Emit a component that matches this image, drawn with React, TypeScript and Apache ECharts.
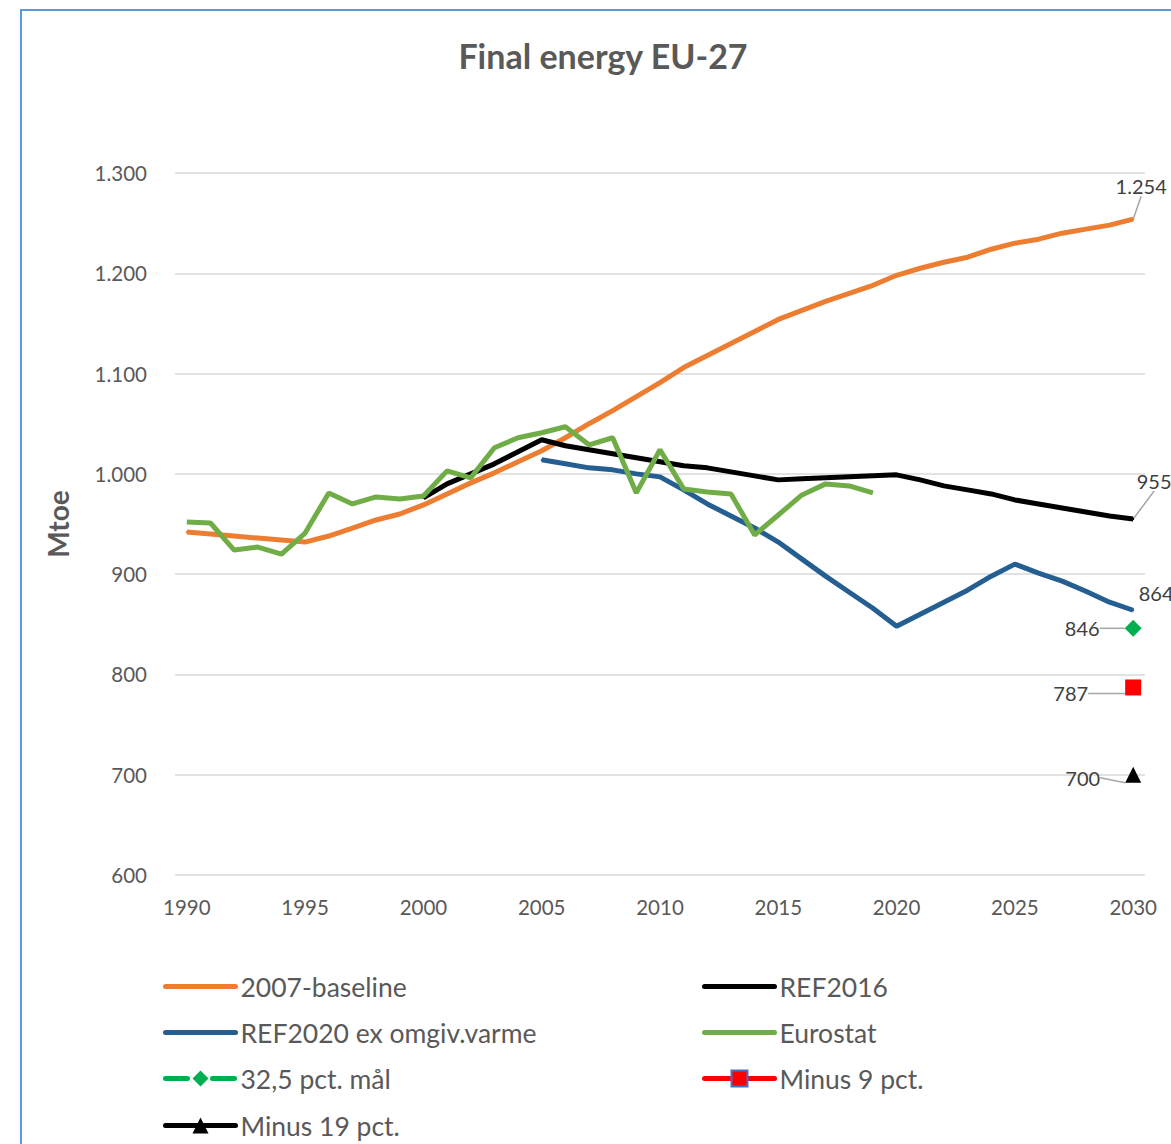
import React, { useEffect, useRef } from "react";
import * as echarts from "echarts";

const years = [
  "1990", "1991", "1992", "1993", "1994", "1995", "1996", "1997", "1998", "1999",
  "2000", "2001", "2002", "2003", "2004", "2005", "2006", "2007", "2008", "2009",
  "2010", "2011", "2012", "2013", "2014", "2015", "2016", "2017", "2018", "2019",
  "2020", "2021", "2022", "2023", "2024", "2025", "2026", "2027", "2028", "2029", "2030",
];

// 2007-baseline, 1990-2030
const baseline2007 = [
  942, 940, 938, 936, 934, 932, 938, 946, 954, 960,
  969, 980, 991, 1001, 1012, 1023, 1036, 1050, 1063, 1077,
  1091, 1106, 1118, 1130, 1142, 1154, 1163, 1172, 1180, 1188,
  1198, 1205, 1211, 1216, 1224, 1230, 1234, 1240, 1244, 1248, 1254,
];
// REF2016, 2000-2030
const ref2016Start = "2000";
const ref2016 = [
  976, 990, 1000, 1010, 1022, 1034, 1028, 1024, 1020, 1016,
  1012, 1008, 1006, 1002, 998, 994, 995, 996, 997, 998,
  999, 994, 988, 984, 980, 974, 970, 966, 962, 958, 955,
];
// REF2020 ex omgiv.varme, 2005-2030
const ref2020Start = "2005";
const ref2020 = [
  1014, 1010, 1006, 1004, 1000,
  997, 984, 970, 958, 946, 932, 915, 898, 882, 866,
  848, 860, 872, 884, 898, 910, 901, 893, 883, 872, 864,
];
// Eurostat, 1990-2019
const eurostat = [
  952, 951, 924, 927, 920, 941, 981, 970, 977, 975,
  978, 1003, 996, 1026, 1036, 1041, 1047, 1029, 1036, 981,
  1024, 985, 982, 980, 939, 959, 979, 990, 988, 981,
];
// 2030 targets
const targetYear = "2030";
const target325 = 846;
const minus9 = 787;
const minus19 = 700;

const yTicks = { min: 600, max: 1300, interval: 100 };

function pad(start: string, values: number[]): (number | null)[] {
  const out: (number | null)[] = years.map(() => null);
  const s = years.indexOf(start);
  values.forEach((v, i) => {
    out[s + i] = v;
  });
  return out;
}

function fmt(v: number): string {
  if (v >= 1000) {
    const t = Math.floor(v / 1000);
    const r = String(Math.round(v - t * 1000)).padStart(3, "0");
    return t + "." + r;
  }
  return String(Math.round(v));
}

function lastLabel(values: (number | null)[], label: any) {
  return values.map((v, i) =>
    i === values.length - 1 && v != null ? { value: v, label } : v
  );
}

const FONT = "Lato, 'Open Sans', sans-serif";
const labelText = { fontSize: 20, color: "#404040", fontFamily: FONT };
const legendText = { fontSize: 26.5, color: "#595959", fontFamily: FONT };
const LW = 5;

export default function App() {
  const ref = useRef<HTMLDivElement>(null);
  useEffect(() => {
    if (!ref.current) return;
    const chart = echarts.init(ref.current, undefined, { renderer: "svg" });

    const dBase = pad("1990", baseline2007);
    const d16 = pad(ref2016Start, ref2016);
    const d20 = pad(ref2020Start, ref2020);
    const dEuro = pad("1990", eurostat);
    const dT = pad(targetYear, [target325]);
    const dM9 = pad(targetYear, [minus9]);
    const dM19 = pad(targetYear, [minus19]);

    const guide = { show: true, lineStyle: { color: "#A6A6A6", width: 1.5 }, length2: 0 };
    const lbl = (position: string) => ({
      show: true,
      position,
      formatter: (p: any) => fmt(p.value),
      ...labelText,
    });
    const plainItem = (name: string) => ({ name, itemStyle: { opacity: 0 } });

    const legendBase = {
      orient: "vertical",
      itemWidth: 70,
      itemHeight: 20,
      itemGap: 19,
      textStyle: legendText,
      lineStyle: { width: 5, cap: "round" },
    };

    const option: any = {
      animation: false,
      backgroundColor: "#ffffff",
      textStyle: { fontFamily: FONT },
      title: {
        text: "Final energy EU-27",
        left: 598,
        top: 33,
        textAlign: "center",
        textStyle: { fontSize: 34, fontWeight: "bold", color: "#595959", fontFamily: FONT },
      },
      graphic: [
        {
          type: "rect",
          z: -10,
          shape: { x: 21, y: 10, width: 1300, height: 1300 },
          style: { fill: "none", stroke: "#5B9BD5", lineWidth: 2 },
        },
      ],
      grid: { left: 175, right: 26, top: 173, bottom: 269 },
      xAxis: {
        type: "category",
        data: years,
        boundaryGap: true,
        axisLine: { show: false },
        axisTick: { show: false },
        axisLabel: { interval: 4, fontSize: 20.5, color: "#595959", margin: 21, fontFamily: FONT },
        splitLine: { show: false },
      },
      yAxis: {
        type: "value",
        min: yTicks.min,
        max: yTicks.max,
        interval: yTicks.interval,
        name: "Mtoe",
        nameLocation: "middle",
        nameRotate: 90,
        nameGap: 103,
        nameTextStyle: { fontSize: 28, fontWeight: "bold", color: "#595959", fontFamily: FONT },
        axisLabel: { fontSize: 20.5, color: "#595959", margin: 28, formatter: (v: number) => fmt(v), fontFamily: FONT },
        axisLine: { show: false },
        axisTick: { show: false },
        splitLine: { lineStyle: { color: "#D9D9D9", width: 1.5 } },
      },
      legend: [
        {
          ...legendBase,
          left: 158,
          top: 968,
          data: [plainItem("2007-baseline"), plainItem("REF2020 ex omgiv.varme"), "32,5 pct. mål"],
        },
        {
          ...legendBase,
          left: 158,
          top: 1107,
          data: ["Minus 19 pct."],
        },
        {
          ...legendBase,
          left: 697,
          top: 968,
          data: [
            plainItem("REF2016"),
            plainItem("Eurostat"),
            { name: "Minus 9 pct.", itemStyle: { borderColor: "#4472C4", borderWidth: 2 } },
          ],
        },
      ],
      series: [
        {
          name: "2007-baseline",
          type: "line",
          data: lastLabel(dBase, lbl("top")),
          symbol: "circle",
          symbolSize: 2,
          showSymbol: true,
          showAllSymbol: true,
          lineStyle: { color: "#ED7D31", width: LW },
          itemStyle: { color: "#ED7D31" },
          labelLine: guide,
          labelLayout: { dx: 8, dy: -17 },
          z: 3,
        },
        {
          name: "REF2016",
          type: "line",
          data: lastLabel(d16, lbl("top")),
          symbol: "circle",
          symbolSize: 2,
          showSymbol: true,
          showAllSymbol: true,
          lineStyle: { color: "#000000", width: LW },
          itemStyle: { color: "#000000" },
          labelLine: guide,
          labelLayout: { dx: 21, dy: -22 },
          z: 4,
        },
        {
          name: "REF2020 ex omgiv.varme",
          type: "line",
          data: lastLabel(d20, lbl("top")),
          symbol: "circle",
          symbolSize: 2,
          showSymbol: true,
          showAllSymbol: true,
          lineStyle: { color: "#255E91", width: LW },
          itemStyle: { color: "#255E91" },
          labelLayout: { dx: 23, dy: -1 },
          z: 2,
        },
        {
          name: "Eurostat",
          type: "line",
          data: dEuro,
          symbol: "none",
          lineStyle: { color: "#70AD47", width: LW },
          itemStyle: { color: "#70AD47" },
          z: 5,
        },
        {
          name: "32,5 pct. mål",
          type: "line",
          data: lastLabel(dT, lbl("left")),
          symbol: "diamond",
          symbolSize: 17,
          showSymbol: true,
          lineStyle: { color: "#00B050", width: LW, type: [22, 25] },
          itemStyle: { color: "#00B050" },
          labelLine: guide,
          labelLayout: { dx: -20, dy: 0 },
          z: 6,
        },
        {
          name: "Minus 9 pct.",
          type: "line",
          data: lastLabel(dM9, lbl("left")),
          symbol: "rect",
          symbolSize: 16,
          showSymbol: true,
          lineStyle: { color: "#FF0000", width: LW },
          itemStyle: { color: "#FF0000" },
          labelLine: guide,
          labelLayout: { dx: -32, dy: 6 },
          z: 6,
        },
        {
          name: "Minus 19 pct.",
          type: "line",
          data: lastLabel(dM19, lbl("left")),
          symbol: "triangle",
          symbolSize: 16,
          showSymbol: true,
          lineStyle: { color: "#000000", width: LW },
          itemStyle: { color: "#000000" },
          labelLine: guide,
          labelLayout: { dx: -20, dy: 3 },
          z: 6,
        },
      ],
    };
    chart.setOption(option);
    return () => chart.dispose();
  }, []);
  return (
    <div
      ref={ref}
      style={{ position: "absolute", left: 0, top: 0, width: 1171, height: 1144 }}
    />
  );
}
